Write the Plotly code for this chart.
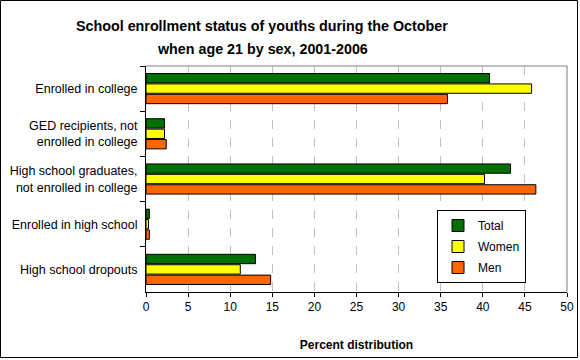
import plotly.graph_objects as go

categories = [
    "Enrolled in college",
    "GED recipients, not<br>enrolled in college",
    "High school graduates,<br>not enrolled in college",
    "Enrolled in high school",
    "High school dropouts",
]
total = [40.8, 2.2, 43.3, 0.4, 13.0]
women = [45.8, 2.2, 40.2, 0.3, 11.2]
men = [35.8, 2.4, 46.3, 0.4, 14.8]
x_ticks = [0, 5, 10, 15, 20, 25, 30, 35, 40, 45, 50]
title_lines = [
    "School enrollment status of youths during the October",
    "when age 21 by sex, 2001-2006",
]

FONT = "Liberation Sans, Arial, sans-serif"
W, H = 580, 360
L, R, T, B = 146, 13, 66, 68
pw, ph = W - L - R, H - T - B

fig = go.Figure()
for name, vals, col in [("Total", total, "#007000"), ("Women", women, "#FFFF00"), ("Men", men, "#FF6600")]:
    fig.add_trace(go.Bar(
        y=categories, x=vals, name=name, orientation="h", legendgroup=name,
        marker=dict(color=col, line=dict(color="#000000", width=1)),
    ))


def px_x(p):
    return (p - L) / pw


def px_y(p):
    return (H - B - p) / ph


fig.add_shape(type="rect", xref="paper", yref="paper",
              x0=px_x(0.5), x1=px_x(577.5), y0=px_y(0.5), y1=px_y(357.5),
              line=dict(color="#000000", width=1), layer="above")
fig.add_shape(type="line", xref="paper", yref="paper", x0=0, x1=1, y0=1, y1=1,
              line=dict(color="#808080", width=1), layer="above")
fig.add_shape(type="line", xref="paper", yref="paper", x0=1, x1=1, y0=0, y1=1,
              line=dict(color="#808080", width=1), layer="above")

for line_text, cy in zip(title_lines, [26, 49]):
    fig.add_annotation(
        text="<b>" + line_text + "</b>", xref="paper", yref="paper",
        x=px_x(262), y=px_y(cy), xanchor="center", yanchor="middle",
        showarrow=False, font=dict(family=FONT, size=14.3, color="#000000"),
    )

fig.update_layout(
    width=W, height=H,
    margin=dict(l=L, r=R, t=T, b=B, autoexpand=False),
    paper_bgcolor="white", plot_bgcolor="white",
    barmode="group", bargap=0.31, bargroupgap=0.1,
    font=dict(family=FONT, size=12, color="#000000"),
    legend=dict(
        x=px_x(437), y=px_y(210), xanchor="left", yanchor="top",
        bordercolor="#000000", borderwidth=1, bgcolor="white",
        font=dict(family=FONT, size=12),
        itemwidth=30, tracegroupgap=2,
    ),
    xaxis=dict(
        range=[0, 50], tickvals=x_ticks, ticktext=[str(v) for v in x_ticks],
        showgrid=True, gridcolor="#C0C0C0", griddash="dash", gridwidth=1,
        showline=True, linecolor="#000000", linewidth=1,
        ticks="outside", ticklen=4, tickcolor="#000000",
        zeroline=False, automargin=False,
        title=dict(text="<b>Percent distribution</b>", standoff=27,
                   font=dict(family=FONT, size=12)),
    ),
    yaxis=dict(
        autorange="reversed", showline=True, linecolor="#000000", linewidth=1,
        ticks="outside", ticklen=5, tickcolor="#000000", tickson="boundaries",
        showgrid=False, tickfont=dict(size=12.5), ticklabelstandoff=5,
        automargin=False,
    ),
)

fig.write_html(
    "out.html",
    config={"displayModeBar": False},
    post_script="document.body.style.margin='0';document.body.style.overflow='hidden';",
)
